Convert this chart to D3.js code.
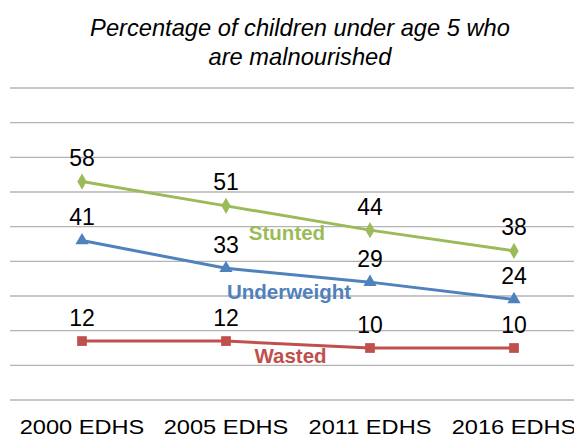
<!DOCTYPE html>
<html>
<head>
<meta charset="utf-8">
<script src="https://cdn.jsdelivr.net/npm/d3@7"></script>
<style>
  html, body { margin: 0; padding: 0; background: #fff; }
  svg { display: block; font-family: "Liberation Sans", Arial, sans-serif; }
</style>
</head>
<body>
<svg id="chart" width="574" height="437"></svg>
<script>
const categories = ["2000 EDHS", "2005 EDHS", "2011 EDHS", "2016 EDHS"];
const stunted = [58, 51, 44, 38];
const underweight = [41, 33, 29, 24];
const wasted = [12, 12, 10, 10];
const gridTicks = [-5, 5, 15, 25, 35, 45, 55, 65, 75, 85];
const titleLines = ["Percentage of children under age 5 who", "are malnourished"];

const series = [
  { name: "Stunted", values: stunted, color: "#9BBB59", symbol: d3.symbolDiamond, size: 75, lx: 287, lvalY: 41.2 },
  { name: "Underweight", values: underweight, color: "#4F81BD", symbol: d3.symbolTriangle, size: 75, lx: 289, lvalY: 24.1 },
  { name: "Wasted", values: wasted, color: "#C0504D", symbol: d3.symbolSquare, size: 95, lx: 290.5, lvalY: 5.6 }
];

const svg = d3.select("#chart");
const x = d3.scaleBand().domain(categories).range([10, 586]);
const y = d3.scaleLinear().domain([-5, 85]).range([400, 88]);

// gridlines
svg.append("g").selectAll("line").data(gridTicks).join("line")
  .attr("x1", 10).attr("x2", 586)
  .attr("y1", d => y(d)).attr("y2", d => y(d))
  .attr("stroke", "#b3b3b3").attr("stroke-width", 1.3);

// title
svg.append("g").selectAll("text").data(titleLines).join("text")
  .attr("transform", (d, i) => `translate(300,${36 + i * 28.5}) scale(1.03,1)`)
  .attr("text-anchor", "middle")
  .attr("font-size", 23).attr("font-style", "italic")
  .attr("fill", "#000")
  .text(d => d);

// x labels
svg.append("g").selectAll("text").data(categories).join("text")
  .attr("transform", d => `translate(${x(d) + x.bandwidth() / 2},433.5) scale(1.18,1)`)
  .attr("text-anchor", "middle")
  .attr("font-size", 20)
  .attr("fill", "#000")
  .text(d => d);

const cx = d => x(d) + x.bandwidth() / 2;
const line = d3.line().x(d => cx(d.c)).y(d => y(d.v));

series.forEach(s => {
  const pts = categories.map((c, i) => ({ c, v: s.values[i] }));
  const g = svg.append("g");
  g.append("path").datum(pts)
    .attr("d", line).attr("fill", "none")
    .attr("stroke", s.color).attr("stroke-width", 3);
  g.selectAll("path.m").data(pts).join("path").attr("class", "m")
    .attr("transform", d => `translate(${cx(d.c)},${y(d.v)})`)
    .attr("d", d3.symbol().type(s.symbol).size(s.size))
    .attr("fill", s.color);
  g.selectAll("text.v").data(pts).join("text").attr("class", "v")
    .attr("x", d => cx(d.c)).attr("y", d => y(d.v) - 15.5)
    .attr("text-anchor", "middle")
    .attr("font-size", 23).attr("fill", "#000")
    .text(d => d.v);
  g.append("text")
    .attr("x", s.lx).attr("y", y(s.lvalY))
    .attr("text-anchor", "middle")
    .attr("font-size", 20.5).attr("font-weight", "bold")
    .attr("fill", s.color)
    .text(s.name);
});
</script>
</body>
</html>
